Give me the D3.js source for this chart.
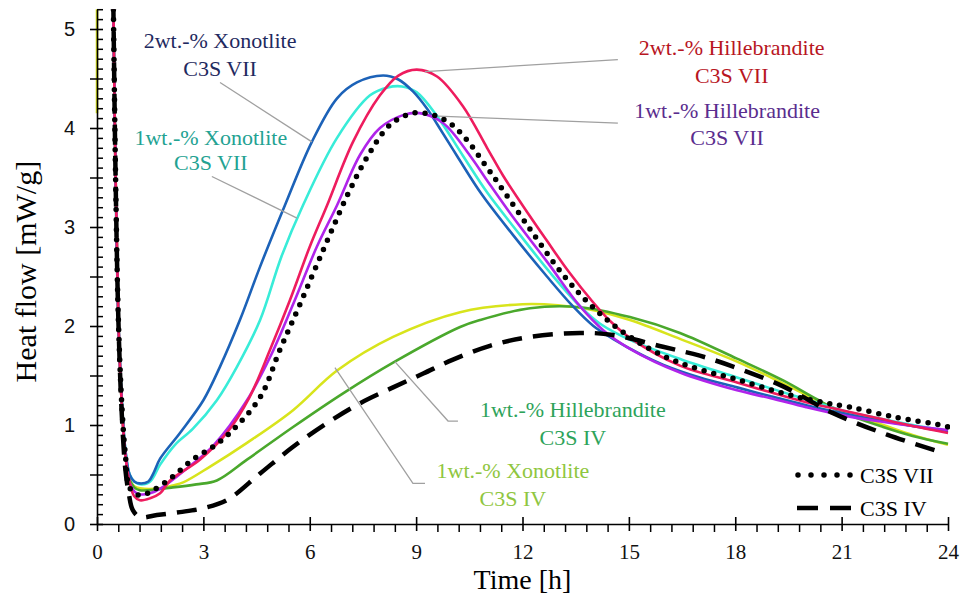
<!DOCTYPE html>
<html><head><meta charset="utf-8">
<script src="https://cdn.jsdelivr.net/npm/d3@7"></script>
<style>body{margin:0;background:#fff}svg{display:block}</style>
</head><body>
<svg id="chart" width="963" height="597"></svg>
<script>
// ---------- data (time [h], heat flow [mW/g]) ----------
const xon2VII = [[0.45,5.6],[0.52,3.6],[0.6,2.1],[0.7,1.25],[0.8,0.75],[0.92,0.5],[1.05,0.43],[1.2,0.41],[1.45,0.43],[1.6,0.52],[1.78,0.66],[2.34,0.92],[3.0,1.25],[3.47,1.59],[4.03,2.06],[4.6,2.6],[5.3,3.22],[6.06,3.86],[6.77,4.3],[7.33,4.46],[8.07,4.53],[8.5,4.49],[8.91,4.37],[9.3,4.2],[9.59,4.04],[10.15,3.72],[10.85,3.33],[11.73,2.92],[12.69,2.5],[13.42,2.2],[14.0,2.0],[14.55,1.87],[15.3,1.72],[15.96,1.61],[17,1.48],[18.05,1.38],[19,1.29],[20,1.2],[21,1.12],[22,1.05],[23,0.99],[24,0.93]];
const xon1VII = [[0.45,5.6],[0.52,3.6],[0.6,2.1],[0.7,1.25],[0.8,0.75],[0.92,0.5],[1.05,0.43],[1.25,0.4],[1.5,0.43],[1.78,0.6],[2.2,0.8],[2.7,0.96],[3.38,1.25],[3.95,1.59],[4.6,2.06],[5.2,2.7],[5.81,3.22],[6.77,3.9],[7.7,4.33],[8.2,4.41],[8.6,4.42],[9.02,4.36],[9.59,4.12],[10.32,3.72],[11.0,3.35],[11.93,2.92],[12.8,2.53],[13.62,2.2],[14.2,2.02],[15.03,1.86],[16.5,1.66],[18.05,1.48],[19,1.37],[20,1.26],[21,1.15],[22,1.07],[23,1.0],[24,0.94]];
const hil2VII = [[0.45,5.6],[0.52,3.6],[0.6,2.1],[0.7,1.2],[0.8,0.7],[0.92,0.42],[1.05,0.28],[1.21,0.24],[1.5,0.26],[1.78,0.31],[2.06,0.44],[2.9,0.65],[3.66,0.92],[4.3,1.28],[4.88,1.76],[5.44,2.26],[6.0,2.8],[6.49,3.22],[7.22,3.86],[7.98,4.33],[8.5,4.53],[9.02,4.59],[9.59,4.52],[10.32,4.22],[11.0,3.8],[11.45,3.52],[12.0,3.22],[12.69,2.86],[13.3,2.55],[13.99,2.24],[14.5,2.04],[15.03,1.88],[16.44,1.6],[18.05,1.43],[19,1.33],[20,1.23],[21,1.15],[22,1.07],[23,0.99],[24,0.92]];
const hil1VII = [[0.45,5.6],[0.52,3.6],[0.6,2.1],[0.7,1.2],[0.8,0.7],[0.92,0.42],[1.05,0.33],[1.2,0.3],[1.5,0.31],[1.8,0.36],[2.5,0.55],[3.3,0.8],[4.23,1.25],[4.9,1.7],[5.53,2.22],[6.2,2.8],[6.77,3.22],[7.42,3.73],[7.98,4.0],[8.63,4.13],[9.1,4.15],[9.76,4.05],[10.52,3.72],[11.0,3.47],[11.73,3.1],[12.69,2.65],[13.62,2.2],[14.3,1.95],[15.03,1.77],[16.44,1.53],[18.05,1.35],[19,1.27],[20,1.18],[21,1.1],[22,1.04],[23,0.99],[24,0.95]];
const c3sVII = [[0.45,5.6],[0.52,3.6],[0.6,2.1],[0.7,1.2],[0.8,0.7],[0.93,0.36],[1.21,0.29],[1.58,0.34],[2.14,0.48],[2.7,0.65],[3.27,0.78],[3.75,0.92],[4.6,1.28],[5.16,1.76],[5.7,2.2],[6.6,2.95],[7.1,3.35],[7.61,3.7],[8.26,4.03],[8.91,4.15],[9.48,4.13],[9.95,4.05],[10.43,3.88],[11.0,3.6],[11.36,3.42],[12.21,2.98],[13.14,2.52],[13.9,2.22],[14.75,1.96],[15.96,1.7],[17,1.56],[18.05,1.46],[19.35,1.32],[20.3,1.24],[21.23,1.18],[22.5,1.08],[23.77,1.0],[24,0.98]];
const c3sIV = [[0.45,5.6],[0.52,3.6],[0.6,2.1],[0.7,1.1],[0.8,0.55],[0.9,0.3],[1.01,0.14],[1.21,0.07],[1.69,0.09],[2.34,0.12],[3.0,0.16],[3.66,0.24],[4.6,0.51],[5.53,0.78],[6.49,1.02],[7.42,1.22],[8.35,1.38],[9.2,1.52],[10.04,1.66],[11.08,1.8],[12.21,1.89],[13.62,1.93],[14.55,1.91],[15.96,1.79],[17,1.7],[17.94,1.59],[19.35,1.39],[20.76,1.12],[22.3,0.9],[23.77,0.73]];
const xon1IVstart = [[0,5.4],[0,4.15]];
const xon1IV = [[0.45,5.6],[0.52,3.6],[0.6,2.1],[0.7,1.2],[0.8,0.7],[0.92,0.45],[1.05,0.38],[1.21,0.36],[1.78,0.36],[2.14,0.39],[2.43,0.42],[3.19,0.58],[4.23,0.82],[5.53,1.15],[6.77,1.55],[8.35,1.89],[10.24,2.14],[12.0,2.22],[13.0,2.21],[14.0,2.16],[15.03,2.06],[16.44,1.87],[18.05,1.64],[19.35,1.42],[20.3,1.25],[21,1.14],[22.17,1.0],[23,0.9],[24,0.8]];
const hil1IV = [[0.45,5.6],[0.52,3.6],[0.6,2.1],[0.7,1.2],[0.8,0.7],[0.92,0.45],[1.05,0.37],[1.21,0.34],[2.14,0.37],[2.8,0.4],[3.38,0.44],[4.23,0.65],[5.53,0.98],[6.94,1.32],[8.35,1.63],[10.24,1.99],[10.8,2.06],[12.21,2.18],[13.62,2.19],[15.03,2.09],[16.44,1.93],[18.05,1.67],[19.35,1.45],[20.3,1.26],[21,1.13],[22.17,0.98],[23,0.89],[24,0.81]];

const xTicks = [0,3,6,9,12,15,18,21,24];
const yTicks = [0,1,2,3,4,5];
const xTitle = "Time [h]";
const yTitle = "Heat flow [mW/g]";

// annotations: text lines, anchor time, baseline values, colour; leader points in data units
const labels = [
  {lines:["2wt.-% Xonotlite","C3S VII"], t:3.47, v:[4.81,4.53], color:"#1f2a60", leader:[[3.47,4.46],[6.06,3.86]]},
  {lines:["1wt.-% Xonotlite","C3S VII"], t:3.21, v:[3.83,3.58], color:"#23a292", leader:[[3.24,3.51],[5.64,3.09]]},
  {lines:["2wt.-% Hillebrandite","C3S VII"], t:17.9, v:[4.74,4.45], color:"#b8161f", leader:[[9.25,4.57],[14.69,4.69]]},
  {lines:["1wt.-% Hillebrandite","C3S VII"], t:17.77, v:[4.10,3.83], color:"#5a2d8e", leader:[[9.62,4.12],[14.69,4.05]]},
  {lines:["1wt.-% Hillebrandite","C3S IV"], t:13.42, v:[1.08,0.80], color:"#2ea35a", leader:[[8.4,1.64],[9.9,1.04],[10.18,1.04]]},
  {lines:["1wt.-% Xonotlite","C3S IV"], t:11.73, v:[0.46,0.18], color:"#8fc640", leader:[[6.71,1.58],[8.91,0.41],[9.25,0.41]]}
];

const series = [
  {data:xon1IVstart, color:"#d8e41c", w:2.6, linear:true},
  {data:xon1IV, color:"#d8e41c", w:2.6},
  {data:hil1IV, color:"#4aa82c", w:2.6},
  {data:xon1VII, color:"#38ecd8", w:2.6},
  {data:xon2VII, color:"#1c62b8", w:2.6},
  {data:hil1VII, color:"#b024ea", w:2.6},
  {data:hil2VII, color:"#ee1c5e", w:2.6},
  {data:c3sIV, color:"#000", w:4.5, dash:"20 11", cap:"butt"},
  {data:c3sVII, color:"#000", w:5.5, dash:"0 10", cap:"round"}
];

// ---------- drawing ----------
const svg = d3.select("#chart");
const x = d3.scaleLinear().domain([0,24]).range([97,948]);
const y = d3.scaleLinear().domain([0,5.2]).range([524,9.2]);
const serif = "'Liberation Serif','Times New Roman',serif";

svg.append("defs").append("clipPath").attr("id","clip")
  .append("rect").attr("x",x(0)-2).attr("y",y(5.2)).attr("width",x(24)-x(0)+4).attr("height",y(0)-y(5.2));

const line = d3.line().x(d=>x(d[0])).y(d=>y(d[1])).curve(d3.curveCatmullRom.alpha(0.5));
const lineLin = d3.line().x(d=>x(d[0])).y(d=>y(d[1]));

const g = svg.append("g").attr("clip-path","url(#clip)");
series.forEach(s=>{
  g.append("path").attr("d",(s.linear?lineLin:line)(s.data))
    .attr("fill","none").attr("stroke",s.color).attr("stroke-width",s.w)
    .attr("stroke-dasharray",s.dash||null).attr("stroke-linecap",s.cap||"butt")
    .attr("stroke-linejoin","round");
});

// leaders
labels.forEach(l=>{
  svg.append("path").attr("d",lineLin(l.leader)).attr("fill","none")
    .attr("stroke","#a0a0a0").attr("stroke-width",1.3);
});
// label text
labels.forEach(l=>{
  l.lines.forEach((txt,i)=>{
    svg.append("text").attr("x",x(l.t)).attr("y",y(l.v[i]))
      .attr("text-anchor","middle").attr("fill",l.color)
      .style("font-family",serif).style("font-size","22px")
      .text(txt);
  });
});

// x axis
const xMinor = d3.range(0,24.001,0.6).filter(v=>Math.abs(v/3-Math.round(v/3))>1e-6);
const xAxisG = svg.append("g").attr("transform",`translate(0,${y(0)})`);
xAxisG.call(d3.axisBottom(x).tickValues(xTicks).tickFormat(d3.format("d")).tickSizeInner(7).tickSizeOuter(0).tickPadding(13));
xAxisG.selectAll(".tick line").attr("y1",-7).attr("y2",7).attr("stroke-width",1.6);
xAxisG.select(".domain").attr("stroke-width",1.6);
xAxisG.selectAll("text").style("font-family",serif).style("font-size","21px").attr("fill","#111");
const xMinorG = svg.append("g").attr("transform",`translate(0,${y(0)})`);
xMinorG.call(d3.axisBottom(x).tickValues(xMinor).tickSize(8).tickFormat(""));
xMinorG.select(".domain").remove();
xMinorG.selectAll("line").attr("stroke-width",1.5);

// y axis
const yMinor = d3.range(0,5.2001,0.1).filter(v=>Math.abs(v*2-Math.round(v*2))>1e-6);
const yMid = [0.5,1.5,2.5,3.5,4.5];
const yAxisG = svg.append("g").attr("transform",`translate(${x(0)},0)`);
yAxisG.call(d3.axisLeft(y).tickValues(yTicks).tickFormat(d3.format("d")).tickSizeInner(7).tickSizeOuter(0).tickPadding(15));
yAxisG.selectAll(".tick line").attr("x1",6).attr("stroke-width",1.6);
yAxisG.select(".domain").attr("stroke-width",1.6);
yAxisG.selectAll("text").style("font-family","'Liberation Sans',Arial,sans-serif").style("font-size","20px").attr("fill","#111");
const yMidG = svg.append("g").attr("transform",`translate(${x(0)},0)`);
yMidG.call(d3.axisLeft(y).tickValues(yMid).tickSize(7).tickFormat(""));
yMidG.select(".domain").remove();
yMidG.selectAll("line").attr("x1",6).attr("stroke-width",1.5);
const yMinorG = svg.append("g").attr("transform",`translate(${x(0)},0)`);
yMinorG.call(d3.axisRight(y).tickValues(yMinor).tickSize(6).tickFormat(""));
yMinorG.select(".domain").remove();
yMinorG.selectAll("line").attr("stroke-width",1.5);

// titles
svg.append("text").attr("x",(x(0)+x(24))/2).attr("y",589).attr("text-anchor","middle")
  .style("font-family",serif).style("font-size","28px").text(xTitle);
svg.append("text").attr("transform",`translate(36,${(y(0)+y(5.2))/2+5}) rotate(-90)`).attr("text-anchor","middle")
  .style("font-family",serif).style("font-size","30px").text(yTitle);

// legend
const leg = [{name:"C3S VII", dash:"0 13", w:5.5, cap:"round", yy:475},{name:"C3S IV", dash:"21 12", w:4.5, cap:"butt", yy:508}];
leg.forEach(l=>{
  svg.append("line").attr("x1", l.cap==="round"?798:797).attr("x2",851).attr("y1",l.yy).attr("y2",l.yy)
    .attr("stroke","#000").attr("stroke-width",l.w).attr("stroke-dasharray",l.dash).attr("stroke-linecap",l.cap);
  svg.append("text").attr("x",860).attr("y",l.yy+7.5)
    .style("font-family",serif).style("font-size","22px").text(l.name);
});
</script>
</body></html>
